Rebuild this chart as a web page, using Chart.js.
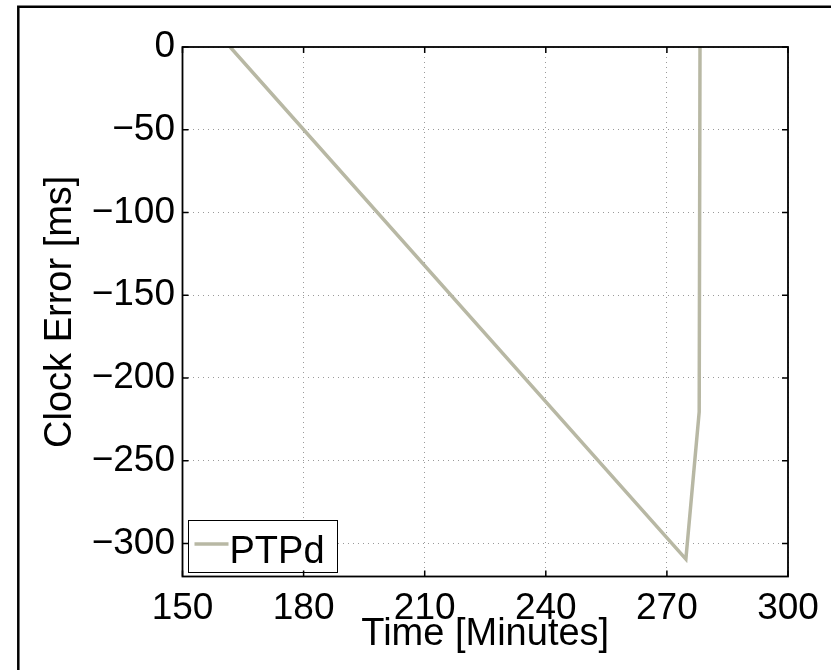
<!DOCTYPE html>
<html>
<head>
<meta charset="utf-8">
<title>Clock Error</title>
<script src="https://cdn.jsdelivr.net/npm/chart.js"></script>
<style>
   html, body { margin: 0; padding: 0; background: #fff; }
   canvas { display: block; }
</style>
</head>
<body>
<canvas id="chart" width="831" height="670"></canvas>
<script>
// Данные
const seriesLabel = 'PTPd';
const timeMin = [161.8, 274.7, 278.0, 278.2];
const clockErrMs = [0, -309.5, -220.5, 0];

const xTicks = [150, 180, 210, 240, 270, 300];
const yTicks = [0, -50, -100, -150, -200, -250, -300];

const FONT = "'Liberation Sans', Arial, Helvetica, sans-serif";
const LINE_COLOR = 'rgb(184, 184, 164)';

// Рамка вокруг всей фигуры (обрезана справа и снизу)
const figureFrame = {
   id: 'figureFrame',
   beforeDraw(chart) {
      const ctx = chart.ctx;
      ctx.save();
      ctx.fillStyle = '#fff';
      ctx.fillRect(0, 0, chart.width, chart.height);
      ctx.strokeStyle = '#000';
      ctx.lineWidth = 2.5;
      ctx.beginPath();
      ctx.moveTo(18.3, chart.height + 5);
      ctx.lineTo(18.3, 6.7);
      ctx.lineTo(chart.width + 5, 6.7);
      ctx.stroke();
      ctx.restore();
   }
};

// Коробка осей + внутренние риски + легенда в левом нижнем углу
const axesBox = {
   id: 'axesBox',
   afterDraw(chart) {
      const ctx = chart.ctx;
      const { left, right, top, bottom } = chart.chartArea;
      const xs = chart.scales.x;
      const ys = chart.scales.y;
      const tick = 6;

      ctx.save();

      // легенда
      const ds = chart.data.datasets[0];
      const lx = left + 5, lw = 149, lh = 52;
      const ly = bottom - 5 - lh;
      ctx.fillStyle = '#fff';
      ctx.fillRect(lx, ly, lw, lh);
      ctx.strokeStyle = '#000';
      ctx.lineWidth = 1;
      ctx.strokeRect(Math.round(lx) + 0.5, Math.round(ly) + 0.5, lw, lh);
      ctx.strokeStyle = ds.borderColor;
      ctx.lineWidth = ds.borderWidth;
      ctx.beginPath();
      ctx.moveTo(lx + 7, ly + 24.5);
      ctx.lineTo(lx + 41, ly + 24.5);
      ctx.stroke();
      ctx.fillStyle = '#000';
      ctx.font = '38px ' + FONT;
      ctx.textBaseline = 'alphabetic';
      ctx.textAlign = 'left';
      ctx.fillText(ds.label, lx + 42, ly + 43.5);

      // риски внутрь
      ctx.strokeStyle = '#000';
      ctx.lineWidth = 1.5;
      ctx.beginPath();
      xTicks.forEach(v => {
         const px = xs.getPixelForValue(v);
         ctx.moveTo(px, bottom); ctx.lineTo(px, bottom - tick);
         ctx.moveTo(px, top); ctx.lineTo(px, top + tick);
      });
      yTicks.forEach(v => {
         const py = ys.getPixelForValue(v);
         ctx.moveTo(left, py); ctx.lineTo(left + tick, py);
         ctx.moveTo(right, py); ctx.lineTo(right - tick, py);
      });
      ctx.stroke();

      // рамка осей
      ctx.lineWidth = 1.8;
      ctx.strokeRect(left, top, right - left, bottom - top);
      ctx.restore();
   }
};

const gridOpts = {
   display: true,
   color: '#9a9a9a',
   lineWidth: 1,
   drawTicks: false,
};

new Chart(document.getElementById('chart').getContext('2d'), {
   type: 'line',
   data: {
      datasets: [
         {
            label: seriesLabel,
            data: timeMin.map((t, i) => ({ x: t, y: clockErrMs[i] })),
            borderColor: LINE_COLOR,
            backgroundColor: LINE_COLOR,
            borderWidth: 3.5,
            pointRadius: 0,
            tension: 0,
            fill: false,
         },
      ],
   },
   options: {
      responsive: false,
      animation: false,
      devicePixelRatio: 1,
      layout: {
         padding: { left: 0, right: 43, top: 47, bottom: 0 },
      },
      plugins: {
         legend: { display: false },
         tooltip: { enabled: false },
      },
      scales: {
         x: {
            type: 'linear',
            min: 150,
            max: 300,
            afterBuildTicks: (scale) => { scale.ticks = xTicks.map(v => ({ value: v })); },
            afterFit: (scale) => { scale.height = 93.5; },
            grid: { ...gridOpts, borderDash: [1, 4] },
            border: { display: false, dash: [1, 4] },
            ticks: {
               color: '#000',
               padding: 10,
               maxRotation: 0,
               font: { size: 37, family: FONT },
            },
            title: {
               display: true,
               text: 'Time [Minutes]',
               color: '#000',
               padding: { top: 0, bottom: 12.4 },
               font: { size: 38, family: FONT },
            },
         },
         y: {
            type: 'linear',
            min: -320,
            max: 0,
            afterBuildTicks: (scale) => { scale.ticks = yTicks.map(v => ({ value: v })); },
            afterFit: (scale) => { scale.width = 182.5; },
            grid: { ...gridOpts },
            border: { display: false, dash: [1, 4] },
            ticks: {
               color: '#000',
               padding: 7.5,
               font: { size: 37, family: FONT },
               callback: (value) => value < 0 ? '\u2212' + Math.abs(value) : String(value),
            },
            title: {
               display: true,
               text: 'Clock Error [ms]',
               color: '#000',
               padding: { top: 38, bottom: 0 },
               font: { size: 38, family: FONT },
            },
         },
      },
   },
   plugins: [figureFrame, axesBox],
});
</script>
</body>
</html>
